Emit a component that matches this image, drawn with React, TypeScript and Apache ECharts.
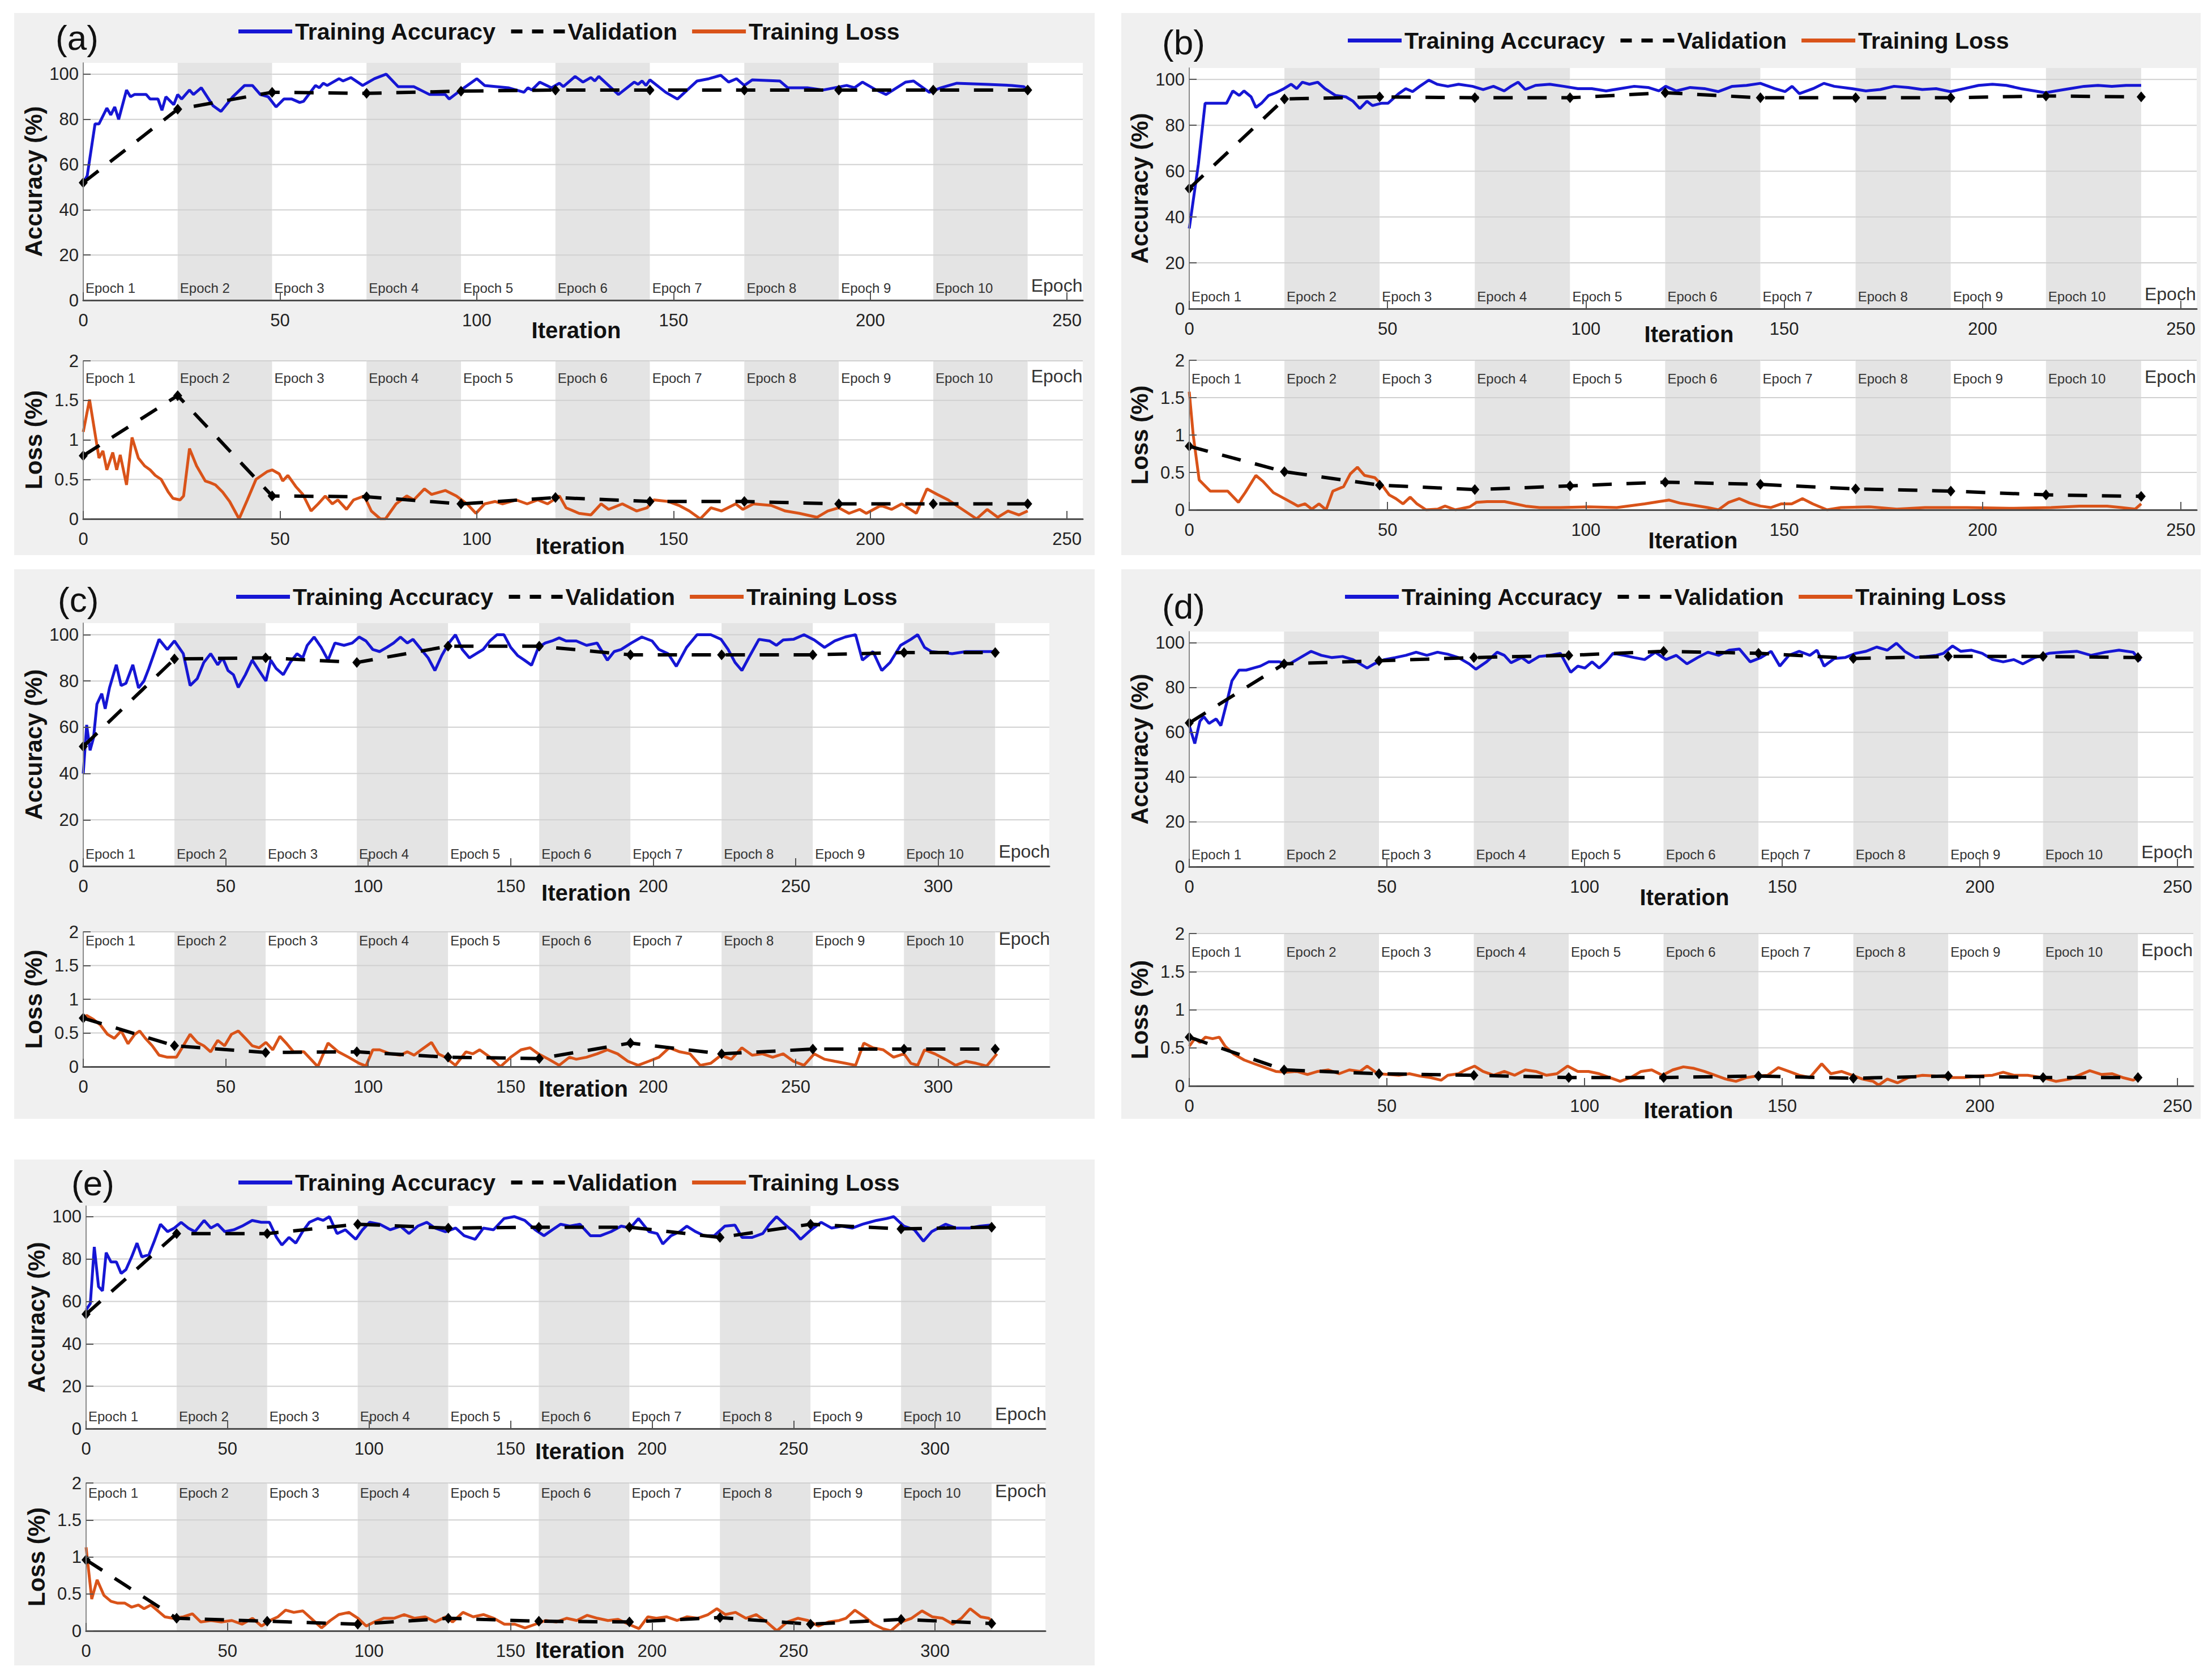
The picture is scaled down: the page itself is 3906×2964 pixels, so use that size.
import React, { useEffect, useRef } from "react";
import * as echarts from "echarts";

const FONT = '"Liberation Sans", Arial, sans-serif';
const BLUE = "#1616d4";
const ORANGE = "#d95319";
const BAND_GRAY = "#e4e4e4";
const PANEL_BG = "#f0f0f0";
const GRID_LINE = "#d0d0d0";

const EPOCH_LABELS = ["Epoch 1", "Epoch 2", "Epoch 3", "Epoch 4", "Epoch 5", "Epoch 6", "Epoch 7", "Epoch 8", "Epoch 9", "Epoch 10", "Epoch"];
const EPOCH_BOUNDS_240 = [0, 24, 48, 72, 96, 120, 144, 168, 192, 216, 240];
const EPOCH_BOUNDS_320 = [0, 32, 64, 96, 128, 160, 192, 224, 256, 288, 320];
const X_MAX_240 = 254;
const X_MAX_320 = 339;
const X_TICKS_240 = [0, 50, 100, 150, 200, 250];
const X_TICKS_320 = [0, 50, 100, 150, 200, 250, 300];
const ACC_TICKS = [0, 20, 40, 60, 80, 100];
const LOSS_TICKS = [0, 0.5, 1, 1.5, 2];
const ACC_MAX = 105;
const LOSS_MAX = 2;

// ---------- (a) ----------
const ACC_A: number[][] = [[0,52],[1,55],[3,78],[4,78],[6,85],[7,82],[8,85.5],[9,80],[11,93],[12,90],[13,91],[16,91],[17,89],[19,89],[20,84],[21,90],[23,86.5],[24,91],[25,89],[27,93],[28,91],[30,94],[33,86],[35,83.5],[38,90],[41,95],[43,95],[45,91],[47,90],[49,85.5],[51,89],[53,89],[55,87.5],[56,88],[59,95],[60,94],[61,96],[62,95],[65,98],[66,97],[68,98.5],[71,95],[74,98],[77,100],[80,94.5],[84,94.5],[88,91],[92,91],[93,89],[96,93],[100,98],[102,95],[108,94],[112,92],[113,94],[114,93],[116,96.5],[119,94],[121,96],[122,94.5],[125,99],[127,96.5],[129,98.5],[130,97],[131,99],[136,91],[140,96.5],[141,95.5],[142,97],[143,95],[144,97.5],[148,92],[151,89],[156,97],[159,98],[162,99.5],[164,96.5],[166,98],[168,95],[170,97.5],[177,97],[179,94],[184,94],[188,93],[194,95],[196,94],[198,96.5],[201,93.5],[204,91],[209,96.5],[211,97],[215,92],[218,94],[222,96],[230,95.5],[236,95],[239,94.5],[240,93]];
const VAL_ACC_A = [52, 84.5, 92, 91.5, 92.5, 93, 93, 93, 93, 93, 93];
const LOSS_A: number[][] = [[0,1.1],[1.6,1.51],[4,0.77],[5,0.86],[6,0.62],[7.5,0.84],[8.5,0.62],[9.4,0.81],[11,0.43],[12.4,1.03],[14,0.77],[15.6,0.67],[17,0.62],[18.3,0.55],[19.8,0.5],[21.6,0.34],[22.8,0.26],[24.6,0.24],[25.5,0.29],[27,0.89],[28.8,0.67],[31,0.48],[32.2,0.46],[33.6,0.43],[35.4,0.34],[37.2,0.22],[39.6,0],[41.7,0.24],[43.9,0.5],[46.8,0.6],[48,0.62],[49.8,0.57],[50.7,0.48],[52,0.55],[54,0.41],[55.8,0.31],[57.9,0.1],[59.7,0.19],[61.5,0.29],[63.3,0.19],[64.7,0.24],[66.9,0.12],[68.7,0.24],[71.4,0.29],[73.2,0.1],[75.5,0],[76.8,0],[79.5,0.19],[82.2,0.29],[84,0.24],[86.7,0.38],[88.5,0.31],[92,0.36],[94.8,0.29],[97.5,0.19],[99.8,0.07],[102,0.19],[104.7,0.22],[106.5,0.19],[110,0.24],[112.8,0.19],[115.5,0.24],[118,0.19],[121,0.29],[122.7,0.14],[126,0.07],[129,0.05],[131.6,0.19],[133.5,0.12],[137,0.19],[140.6,0.1],[143.3,0.14],[145,0.24],[148.7,0.22],[151.4,0.17],[154,0.1],[156.8,0],[159.5,0.14],[162.2,0.1],[165.8,0.19],[167.6,0.12],[170.3,0.19],[174.8,0.17],[178.4,0.1],[182,0.07],[186.5,0.02],[189.2,0.1],[192,0.14],[194.6,0.07],[197.3,0.12],[199,0.07],[202.7,0.17],[205.4,0.12],[208,0.19],[211.7,0.07],[214.4,0.38],[217,0.31],[219.8,0.24],[223.4,0.12],[227,0],[229.7,0.12],[232.4,0.02],[235,0.1],[237.8,0.05],[240,0.1]];
const VAL_LOSS_A = [0.8, 1.56, 0.29, 0.28, 0.19, 0.27, 0.22, 0.22, 0.19, 0.19, 0.19];

// ---------- (b) ----------
const ACC_B: number[][] = [[0,35],[2.3,63],[4,89.6],[9.4,89.6],[11,95],[12.6,93],[13.8,95],[15.6,92.4],[16.8,87.8],[18.2,89.6],[20,93],[21.8,94.2],[23.9,96],[25.7,97.9],[27.1,96],[28.5,98.8],[30.3,97.9],[32.4,98.8],[34.2,96],[36.9,93],[39.5,92.4],[41.3,90.5],[43,87.3],[44.8,90.5],[46.2,88.6],[48.4,89.6],[50.1,89.6],[52.8,93.8],[54.6,96],[56.3,94.7],[58.1,97],[60.4,99.7],[62.5,97.9],[65.2,97],[67.9,97.9],[71.4,97],[74.1,95.6],[76.7,97],[79.4,95],[81.1,97],[82.9,98.8],[84.7,95.6],[87.3,97.4],[90.9,97.9],[94.4,97],[98,96],[101.5,96],[105.1,95],[108.6,96],[112.2,97],[115.7,96.5],[118.4,95],[120.1,97],[122.8,95],[126.3,96.5],[129.9,96],[133.4,94.7],[136.9,97],[140.5,97.4],[144,98.3],[147.6,96],[150.2,94.7],[152,97],[153.8,93.8],[157.3,96],[160,98.3],[162.6,97],[167.1,96],[170.6,95],[174.2,95.6],[177.7,97],[181.3,96.5],[184.8,95.6],[188.3,96],[191.9,94.7],[195.4,96],[199,97.4],[202.5,97.9],[206,97.4],[209.6,96],[213.1,95],[215.8,94.2],[218.5,95],[222,96],[225.6,97],[229.1,97.4],[232.6,97],[236.2,97.4],[240,97.4]];
const VAL_ACC_B = [52.4, 91.5, 92.4, 92, 92, 94.2, 92, 92, 92, 92.8, 92.4];
const LOSS_B: number[][] = [[0,1.58],[1,1.0],[2.5,0.4],[5.3,0.25],[9.7,0.25],[12.4,0.1],[14.1,0.23],[16.8,0.46],[18.6,0.38],[21.2,0.23],[24.7,0.13],[27.4,0.05],[29.2,0.08],[30.9,0.01],[32.7,0.08],[34.5,0],[36.2,0.25],[38.9,0.31],[40.6,0.48],[42.4,0.57],[44.2,0.46],[46.8,0.43],[48.6,0.33],[50.4,0.2],[52.1,0.15],[53.9,0.08],[55.7,0.17],[57.4,0.08],[59.7,0],[62.7,0.01],[64.5,0.05],[67.1,0],[70.7,0.04],[72.4,0.1],[75.1,0.11],[79.5,0.11],[82.2,0.08],[84.8,0.05],[88.3,0.03],[93.6,0.03],[100.7,0.04],[107.8,0.03],[114.8,0.08],[118.4,0.11],[121,0.13],[123.7,0.09],[127.2,0.06],[130.7,0.03],[133.4,0],[136,0.1],[138.7,0.15],[141.3,0.09],[144,0.05],[146.6,0.03],[149.3,0.08],[151.9,0.08],[154.6,0.15],[157.2,0.08],[160.8,0],[164.3,0.03],[171.4,0.04],[178.4,0.01],[185.5,0.03],[196.1,0.03],[206.7,0.02],[217.3,0.03],[224.4,0.05],[231.4,0.05],[235,0.03],[238.5,0.01],[240,0.08]];
const VAL_LOSS_B = [0.85, 0.51, 0.33, 0.27, 0.32, 0.37, 0.34, 0.28, 0.25, 0.2, 0.18];

// ---------- (c) ----------
const ACC_C: number[][] = [[0,40],[1.2,61],[2.4,50],[3.6,55.4],[4.8,70],[6.5,74.5],[7.7,68],[9.2,77],[11.6,87],[13.3,78],[15,79],[17.4,87],[19.4,77],[21.3,80],[23,85.4],[26.6,98],[29.5,93.6],[32,97.3],[35.1,91.8],[37.5,78],[40,81],[42.3,88],[44.7,91.8],[47.2,87],[48.9,90],[50.8,84.5],[52.7,82.7],[54.4,77.2],[56.9,82.7],[59.3,89],[61.7,84.5],[64.1,80],[65.8,89],[67.7,85.4],[70.2,82.7],[72.6,88],[75,91.8],[77,90],[78.6,95.4],[81,99],[83.5,94.5],[85.9,89],[88.3,96.4],[91.5,95.4],[94.4,96.4],[96.8,99],[99.2,97.3],[101.6,93.6],[104,92.7],[106.5,94.5],[108.9,96.4],[111.3,99],[113.7,96.4],[115.7,98],[118.6,93.6],[121,90],[123.4,84.5],[125.8,91],[128.3,96.4],[130.6,100],[133,93.6],[135.5,90],[137.9,91.8],[140.3,93.6],[142.7,97.3],[145.2,100],[147.6,100],[150,94.5],[152.4,91],[154.8,89],[157.3,86.8],[159.7,94.5],[162.1,96.4],[164.5,97.3],[167,98.6],[169.4,97.3],[173,97.3],[176.6,95.4],[180.3,96.4],[183.9,89],[186.3,92.7],[188.7,93.6],[192.3,96.4],[196,99],[199.6,97.3],[202,93.6],[205.2,91.8],[208.1,86.3],[211.7,94.5],[215.4,100],[220.2,100],[223.8,98],[226.3,93.6],[228.7,88],[231.1,84.5],[233.5,90],[237.1,98],[240.8,97.3],[243.2,95.4],[245.6,97.7],[249.2,98],[252.9,100],[256.5,97.7],[260.1,94.5],[263.7,97.3],[267.4,99],[271,100],[273.4,89],[277.1,92.7],[280.2,84.5],[283.1,88],[286.8,95.4],[290.4,98],[292.8,100],[295.2,94.5],[297.6,92.7],[301.2,92.3],[304.9,91.8],[309.7,92.7],[314.5,92.7],[319.4,92.7],[320.6,91.3]];
const VAL_ACC_C = [51.7, 89.5, 90, 88, 95, 95, 91.3, 91.3, 91.3, 92.3, 92.3];
const LOSS_C: number[][] = [[0,0.73],[1.2,0.76],[3.6,0.7],[6,0.62],[8.5,0.48],[10.9,0.42],[13.3,0.53],[15.7,0.34],[18.1,0.48],[19.8,0.53],[21.8,0.42],[24.2,0.31],[26.6,0.17],[29.5,0.14],[32.7,0.14],[35.1,0.31],[37.5,0.48],[40,0.36],[42.3,0.31],[44.7,0.22],[47.2,0.39],[49.6,0.31],[52,0.48],[54.4,0.53],[56.9,0.42],[59.3,0.31],[61.7,0.28],[64.1,0.36],[66.5,0.25],[69,0.45],[71.4,0.34],[73.8,0.22],[77.4,0.22],[82.3,0],[85.9,0.35],[89.5,0.22],[93.1,0.14],[96.8,0.05],[99.2,0.01],[101.6,0.25],[104,0.25],[107.7,0.19],[111.3,0.17],[113.7,0.22],[116.1,0.17],[118.6,0.25],[122.2,0.36],[124.6,0.19],[127,0.14],[130.6,0.02],[134.3,0.22],[136.7,0.19],[139.1,0.25],[142.7,0.14],[146.4,0],[150,0.14],[153.6,0.25],[156.8,0.28],[159.7,0.19],[163.3,0.11],[167,0.02],[170.6,0.14],[173,0.11],[176.6,0.14],[180.3,0.19],[183.9,0.25],[187.5,0.19],[191.1,0.08],[194.7,0.02],[198.4,0.08],[202,0.14],[205.6,0.28],[209.3,0.22],[212.9,0.19],[216.5,0.02],[220.2,0.05],[223.8,0.17],[227.4,0.11],[231.1,0.28],[234.7,0.17],[238.3,0.19],[241.9,0.14],[245.6,0.19],[249.2,0.08],[252.9,0.02],[256.5,0.19],[260.1,0.11],[263.7,0.08],[267.4,0.05],[271,0.02],[273.9,0.35],[277.1,0.28],[280.7,0.25],[284.3,0.14],[288,0.19],[290.4,0.05],[292.8,0.02],[295.2,0.25],[298.8,0.19],[302.5,0.11],[306.1,0.02],[309.7,0.08],[313.3,0.05],[317,0.01],[320.6,0.19]];
const VAL_LOSS_C = [0.72, 0.31, 0.21, 0.22, 0.14, 0.12, 0.35, 0.19, 0.26, 0.26, 0.26];

// ---------- (d) ----------
const ACC_D: number[][] = [[0,63],[1.4,55],[2.7,65],[3.7,67],[5,64],[6.8,66],[8,63],[9.4,72.7],[10.8,83],[12.6,87.8],[14.4,87.8],[16.2,88.7],[18,89.6],[20.1,91.5],[22.8,91.5],[25.4,90.6],[28.1,93.4],[30.8,96.2],[33.4,94.4],[36.1,93.4],[38.8,93.9],[41.4,92.5],[43.2,90.6],[45,88.7],[46.8,90.6],[49.4,92.5],[52.1,93.4],[54.8,94.4],[57.4,95.8],[60.1,94.4],[62.8,95.8],[65.4,94.9],[68.1,93.4],[70.8,90.6],[72.5,88.2],[75.2,91.5],[77.9,95.8],[79.7,94.4],[81.4,91.1],[84.1,93.4],[85.9,91.1],[88.5,93.9],[91.2,94.4],[93.9,95.3],[96.5,86.8],[98.3,89.6],[100.1,88.7],[101.9,91.5],[103.7,88.7],[105.4,91.5],[107.2,95.3],[109.9,94.4],[112.6,93.4],[115.2,92.5],[117.9,95.8],[120.6,92.5],[123.2,94.4],[125.9,90.6],[128.6,93.4],[131.2,95.8],[133.9,94.4],[136.6,96.7],[139.2,97.2],[141.9,91.5],[144.6,93.4],[147.2,96.2],[149.4,89.6],[151.7,94.4],[154.3,96.2],[157,94.4],[158.8,96.7],[160.6,89.6],[163.2,93],[165.9,93.4],[168.6,95.3],[171.2,96.2],[173.9,98.1],[176.6,96.7],[178.9,99.8],[181,96.2],[183.7,93.4],[186.4,93.9],[189,94.4],[190.8,95.3],[193.1,98.6],[195.2,96.2],[197.9,96.7],[200.6,95.3],[203.2,92.5],[205.9,91.5],[208.6,92.5],[210.9,90.6],[213.9,93.4],[217.5,95.3],[221,95.8],[224.6,96.2],[228.1,94.4],[231.7,95.8],[235.2,96.7],[238.8,95.8],[240.6,91.9]];
const VAL_ACC_D = [64.2, 90.6, 92, 93.4, 94.4, 96.2, 95.3, 93, 93.9, 93.9, 93.4];
const LOSS_D: number[][] = [[0,0.52],[1.4,0.62],[2.7,0.57],[4.1,0.64],[5.9,0.62],[7.6,0.64],[9.1,0.52],[11.2,0.42],[13.9,0.34],[16.5,0.29],[19.2,0.24],[21.9,0.19],[24.5,0.18],[27.2,0.19],[29.9,0.15],[32.5,0.19],[35.2,0.21],[37.9,0.16],[40.5,0.21],[43.2,0.19],[45,0.26],[47.7,0.16],[50.3,0.15],[53,0.14],[55.7,0.16],[58.3,0.13],[61,0.11],[63.7,0.075],[65.4,0.14],[68.1,0.16],[69.9,0.21],[72.2,0.26],[74.3,0.19],[77,0.14],[79.7,0.19],[82.3,0.14],[85,0.21],[87.7,0.19],[90.3,0.14],[93,0.16],[95.7,0.26],[98.3,0.19],[101,0.19],[103.7,0.16],[106.3,0.11],[109,0.06],[111.7,0.11],[114.3,0.19],[117,0.21],[119.7,0.14],[122.3,0.21],[125,0.25],[127.7,0.23],[130.3,0.19],[133,0.14],[135.7,0.09],[138.3,0.06],[141,0.11],[143.7,0.13],[146.3,0.14],[149,0.24],[151.7,0.19],[154.3,0.14],[157,0.11],[160,0.29],[162.3,0.16],[165,0.19],[167.7,0.14],[170.3,0.09],[173,0.06],[174.4,0.01],[176.6,0.09],[179.2,0.04],[181.9,0.11],[185.5,0.14],[189,0.13],[192.6,0.11],[196.1,0.11],[199.7,0.13],[203.2,0.14],[205.9,0.18],[208.6,0.14],[212.1,0.14],[215.7,0.11],[219.2,0.06],[222.8,0.09],[225.5,0.15],[227.8,0.2],[230.8,0.15],[233.5,0.16],[236.1,0.11],[238.8,0.075],[240.6,0.13]];
const VAL_LOSS_D = [0.64, 0.21, 0.16, 0.14, 0.11, 0.11, 0.13, 0.1, 0.13, 0.11, 0.11];

// ---------- (e) ----------
const ACC_E: number[][] = [[0,56],[1.5,59],[2.9,85.7],[4.4,67],[5.8,65],[7.1,83],[8.8,78.6],[10.7,78.6],[12.4,73.2],[14.1,75],[16.1,81],[18,87.5],[19.7,81],[22.2,82],[24.1,88.4],[26.3,96.4],[28.8,92.9],[31.2,94.6],[33.6,97.3],[36.1,94.6],[38.5,92.9],[41.7,98.2],[44.1,94.6],[46.5,96.4],[49,92.9],[52.2,93.8],[55.1,95.5],[58.7,98.2],[61.9,97.3],[64.8,97.3],[67.3,90.2],[69.2,86.6],[71.7,90.2],[74.1,87.5],[76.5,92.9],[78.9,97.3],[81.9,99.1],[83.8,98.2],[86,100],[88.7,92],[91.6,93.8],[95.3,89.3],[97.7,93.8],[100.2,97.3],[103.8,96.4],[107.5,93.8],[111.1,95.5],[114.1,92],[117.2,95.5],[120.4,97.3],[123.3,94.6],[127,92.9],[130.6,94.6],[133.6,91],[137.5,89.3],[140.4,94.6],[144,93.8],[147.7,99.1],[151.3,100],[155,98.2],[158.7,93.8],[161.8,91],[164.8,93.8],[167.7,96.4],[170.9,95.5],[174.5,96.4],[178.2,91],[181.8,91],[185.5,92.9],[189.1,95.5],[192.3,94.6],[195.2,99.1],[198.9,92.9],[201.8,92],[203.8,87.1],[206.7,91],[209.8,92.9],[212.3,95.5],[215.4,92.9],[218.4,91],[222,91],[225.7,95.5],[229.3,96],[231.8,90.2],[235.4,90.2],[239.1,92],[241.5,96.4],[244,100],[247.6,95.5],[250.1,92.9],[252.5,89.3],[256.2,93.8],[259.8,97.3],[263.4,94.6],[267.1,95.5],[270.8,94.6],[274.4,96.4],[279.3,98.2],[282.9,99.1],[285.4,100],[289,95.5],[292.7,93.8],[295.9,88.4],[298.8,92.9],[303.7,96.4],[307.3,94.6],[312.2,94.6],[315.9,95.5],[319.5,96],[320.7,93.8]];
const VAL_ACC_E = [54, 92, 92, 96.4, 94.6, 95, 95, 90.2, 96.4, 94.2, 95];
const LOSS_E: number[][] = [[0,1.13],[2,0.43],[3.9,0.69],[6.3,0.48],[8.8,0.4],[11.2,0.375],[13.7,0.375],[16.1,0.32],[18.5,0.35],[20.5,0.3],[22.9,0.35],[25.4,0.27],[27.8,0.19],[30.7,0.17],[34.4,0.19],[37.6,0.23],[40.5,0.12],[44.1,0.14],[47.8,0.12],[51.5,0.14],[55.1,0.09],[58.8,0.17],[62,0.065],[64.9,0.14],[67.8,0.19],[70.5,0.28],[73.4,0.25],[76.6,0.27],[79.5,0.17],[83.2,0.04],[86.3,0.14],[89.3,0.22],[92.9,0.25],[96.1,0.17],[99,0.065],[101.9,0.12],[105.1,0.17],[108.8,0.17],[112.4,0.22],[116.1,0.17],[119.8,0.19],[123.4,0.12],[127.1,0.19],[129.5,0.12],[133.2,0.25],[136.8,0.19],[140.5,0.22],[144.1,0.17],[147.8,0.09],[151.5,0.09],[155.1,0.04],[158.8,0.09],[162.4,0.14],[166.1,0.12],[169.8,0.17],[173.4,0.14],[177.1,0.21],[180.7,0.17],[184.4,0.14],[188,0.155],[191.7,0.09],[195.4,0.03],[198.5,0.19],[201.5,0.17],[205.1,0.19],[208.8,0.14],[212.4,0.19],[216.1,0.17],[219.8,0.22],[222.9,0.3],[225.9,0.22],[229.5,0.25],[233.2,0.17],[236.8,0.22],[240.5,0.12],[244.1,0],[247.8,0.12],[251.5,0.17],[255.1,0.14],[258.8,0.065],[262.4,0.12],[266.1,0.14],[268.5,0.17],[271.7,0.28],[275.1,0.19],[278.3,0.09],[281.5,0.03],[284.4,0],[288,0.12],[291.7,0.17],[295.4,0.27],[299,0.19],[302.7,0.17],[306.3,0.09],[309.3,0.17],[312.4,0.3],[316.1,0.19],[319,0.17],[320.5,0.12]];
const VAL_LOSS_E = [0.96, 0.17, 0.13, 0.09, 0.17, 0.13, 0.12, 0.18, 0.09, 0.155, 0.1];

type Panel = {
  id: string; label: string; bounds: number[]; xMax: number; xTicks: number[];
  acc: number[][]; valAcc: number[]; loss: number[][]; valLoss: number[];
  box: number[]; labelPos: number[]; legendPos: number[];
  accGrid: number[]; lossGrid: number[]; gaps: number[]; shifts: number[]; lossLabelOff: number;
};

const PANELS: Panel[] = [
  { id: "a", label: "(a)", bounds: EPOCH_BOUNDS_240, xMax: X_MAX_240, xTicks: X_TICKS_240,
    acc: ACC_A, valAcc: VAL_ACC_A, loss: LOSS_A, valLoss: VAL_LOSS_A,
    box: [25, 23, 1908, 957], labelPos: [98, 66], legendPos: [421, 35],
    accGrid: [147, 111, 1765, 419], lossGrid: [147, 637, 1765, 279], gaps: [33, 28], shifts: [-12, -5], lossLabelOff: 18 },
  { id: "b", label: "(b)", bounds: EPOCH_BOUNDS_240, xMax: X_MAX_240, xTicks: X_TICKS_240,
    acc: ACC_B, valAcc: VAL_ACC_B, loss: LOSS_B, valLoss: VAL_LOSS_B,
    box: [1980, 23, 1906, 957], labelPos: [2052, 74], legendPos: [2380, 51],
    accGrid: [2100, 120, 1779, 425], lossGrid: [2100, 636, 1779, 264], gaps: [25, 34], shifts: [-7, 0], lossLabelOff: 20 },
  { id: "c", label: "(c)", bounds: EPOCH_BOUNDS_320, xMax: X_MAX_320, xTicks: X_TICKS_320,
    acc: ACC_C, valAcc: VAL_ACC_C, loss: LOSS_C, valLoss: VAL_LOSS_C,
    box: [25, 1005, 1908, 970], labelPos: [102, 1058], legendPos: [417, 1033],
    accGrid: [147, 1100, 1706, 429], lossGrid: [147, 1645, 1706, 238], gaps: [27, 19], shifts: [35, 30], lossLabelOff: 3 },
  { id: "d", label: "(d)", bounds: EPOCH_BOUNDS_240, xMax: X_MAX_240, xTicks: X_TICKS_240,
    acc: ACC_D, valAcc: VAL_ACC_D, loss: LOSS_D, valLoss: VAL_LOSS_D,
    box: [1980, 1005, 1906, 970], labelPos: [2052, 1070], legendPos: [2375, 1033],
    accGrid: [2100, 1115, 1773, 415], lossGrid: [2100, 1648, 1773, 269], gaps: [34, 23], shifts: [-12, -5], lossLabelOff: 20 },
  { id: "e", label: "(e)", bounds: EPOCH_BOUNDS_320, xMax: X_MAX_320, xTicks: X_TICKS_320,
    acc: ACC_E, valAcc: VAL_ACC_E, loss: LOSS_E, valLoss: VAL_LOSS_E,
    box: [25, 2047, 1908, 893], labelPos: [126, 2088], legendPos: [421, 2067],
    accGrid: [152, 2129, 1694, 393], lossGrid: [152, 2618, 1694, 261], gaps: [20, 14], shifts: [25, 25], lossLabelOff: 5 },
];

const ICON_SOLID = "path://M0,0H95V7H0Z";
const ICON_DASHED = "path://M0,0H20V7H0Z M37,0H57V7H37Z M75,0H95V7H75Z";

function bandSeries(p: Panel, gi: number, kind: "acc" | "loss") {
  const b = p.bounds;
  const data: number[][] = b.slice(0, -1).map((s, k) => [s, b[k + 1], k]);
  data.push([b[b.length - 1], p.xMax, b.length - 1]);
  const yMax = kind === "acc" ? ACC_MAX : LOSS_MAX;
  const gridVals = (kind === "acc" ? ACC_TICKS : LOSS_TICKS).filter((v) => v > 0);
  return {
    type: "custom",
    name: `bands-${p.id}-${kind}`,
    xAxisIndex: gi,
    yAxisIndex: gi,
    z: 1,
    silent: true,
    data,
    renderItem: (_params: any, api: any) => {
      const s = api.value(0);
      const e = api.value(1);
      const k = api.value(2);
      const tl = api.coord([s, yMax]);
      const br = api.coord([e, 0]);
      const isTail = k === EPOCH_LABELS.length - 1;
      const children: any[] = [
        { type: "rect", shape: { x: tl[0], y: tl[1], width: br[0] - tl[0], height: br[1] - tl[1] },
          style: { fill: k % 2 === 1 ? BAND_GRAY : "#ffffff" } },
      ];
      gridVals.forEach((v) => {
        const y = api.coord([s, v])[1];
        children.push({ type: "line", shape: { x1: tl[0], y1: y, x2: br[0], y2: y },
          style: { stroke: GRID_LINE, lineWidth: 2 } });
      });
      const fs = isTail ? 32 : 24;
      const cy = kind === "acc"
        ? br[1] - (isTail ? 26 : 22)
        : tl[1] + p.lossLabelOff + (isTail ? 9 : 12);
      children.push({
        type: "text", x: tl[0] + (isTail ? 6 : 4), y: cy,
        style: { text: EPOCH_LABELS[k], fontSize: fs, fontFamily: FONT, fill: "#333",
          textAlign: "left", textVerticalAlign: "middle" },
      });
      return { type: "group", children };
    },
  };
}

function buildOption() {
  const grid: any[] = [];
  const xAxis: any[] = [];
  const yAxis: any[] = [];
  const series: any[] = [];
  const legend: any[] = [];
  const graphic: any[] = [];

  PANELS.forEach((p, i) => {
    graphic.push({ type: "rect", z: -10, silent: true,
      shape: { x: p.box[0], y: p.box[1], width: p.box[2], height: p.box[3] }, style: { fill: PANEL_BG } });
    graphic.push({ type: "text", z: 10, x: p.labelPos[0], y: p.labelPos[1],
      style: { text: p.label, fontSize: 62, fontFamily: FONT, fill: "#111", textVerticalAlign: "middle" } });

    legend.push({
      left: p.legendPos[0], top: p.legendPos[1], orient: "horizontal", padding: 0,
      itemWidth: 95, itemHeight: 7, itemGap: 26, selectedMode: false, symbolKeepAspect: false,
      textStyle: { fontSize: 41, fontWeight: "bold", color: "#111", fontFamily: FONT },
      data: [
        { name: "Training Accuracy", icon: ICON_SOLID },
        { name: "Validation", icon: ICON_DASHED },
        { name: "Training Loss", icon: ICON_SOLID },
      ],
    });

    (["acc", "loss"] as const).forEach((kind, j) => {
      const gi = i * 2 + j;
      const g = kind === "acc" ? p.accGrid : p.lossGrid;
      const shift = p.shifts[j];
      grid.push({ left: g[0], top: g[1], width: g[2], height: g[3], containLabel: false });
      xAxis.push({
        type: "value", gridIndex: gi, min: 0, max: p.xMax, interval: 50, z: 5,
        axisLine: { show: true, onZero: false, lineStyle: { color: "#4d4d4d", width: 3 } },
        axisTick: { show: true, inside: true, length: 14, customValues: p.xTicks,
          lineStyle: { color: "#555", width: 2 } },
        axisLabel: { fontSize: 31, color: "#222", margin: 20, fontFamily: FONT, customValues: p.xTicks },
        splitLine: { show: false },
        name: "Iteration", nameLocation: "middle", nameGap: p.gaps[j], nameMoveOverlap: false,
        nameTextStyle: { fontSize: 40, fontWeight: "bold", color: "#111", fontFamily: FONT,
          padding: shift >= 0 ? [0, 0, 0, 2 * shift] : [0, -2 * shift, 0, 0] },
      });
      const ticks = kind === "acc" ? ACC_TICKS : LOSS_TICKS;
      yAxis.push({
        type: "value", gridIndex: gi, min: 0, max: kind === "acc" ? ACC_MAX : LOSS_MAX,
        interval: kind === "acc" ? 20 : 0.5, z: 5,
        axisLine: { show: true, lineStyle: { color: "#8a8a8a", width: 2 } },
        axisTick: { show: true, inside: true, length: 13, customValues: ticks,
          lineStyle: { color: "#555", width: 2 } },
        axisLabel: { fontSize: 31, color: "#222", margin: 8, fontFamily: FONT, customValues: ticks },
        splitLine: { show: false },
        name: kind === "acc" ? "Accuracy (%)" : "Loss (%)",
        nameLocation: "middle", nameGap: 67, nameRotate: 90, nameMoveOverlap: false,
        nameTextStyle: { fontSize: 42, fontWeight: "bold", color: "#111", fontFamily: FONT },
      });

      series.push(bandSeries(p, gi, kind));

      const train = kind === "acc" ? p.acc : p.loss;
      const val = kind === "acc" ? p.valAcc : p.valLoss;
      const color = kind === "acc" ? BLUE : ORANGE;
      series.push({
        type: "line", name: kind === "acc" ? "Training Accuracy" : "Training Loss",
        xAxisIndex: gi, yAxisIndex: gi, data: train, symbol: "none", z: 3, silent: true,
        lineStyle: { color, width: 5 }, itemStyle: { color },
      });
      series.push({
        type: "line", name: "Validation", xAxisIndex: gi, yAxisIndex: gi,
        data: p.bounds.map((x, k) => [x, val[k]]),
        symbol: "diamond", symbolSize: [16, 19], showSymbol: true, z: 4, silent: true,
        lineStyle: { color: "#000", width: 6, type: [34, 26] }, itemStyle: { color: "#000" },
      });
    });
  });

  return {
    animation: false,
    textStyle: { fontFamily: FONT },
    graphic,
    legend,
    grid,
    xAxis,
    yAxis,
    series,
  };
}

export default function App() {
  const ref = useRef<HTMLDivElement>(null);
  useEffect(() => {
    if (!ref.current) return;
    const chart = echarts.init(ref.current, undefined, { renderer: "svg" });
    chart.setOption(buildOption() as any);
    return () => chart.dispose();
  }, []);
  return (
    <div
      ref={ref}
      style={{ position: "absolute", left: 0, top: 0, width: 3906, height: 2964, background: "#ffffff" }}
    />
  );
}
